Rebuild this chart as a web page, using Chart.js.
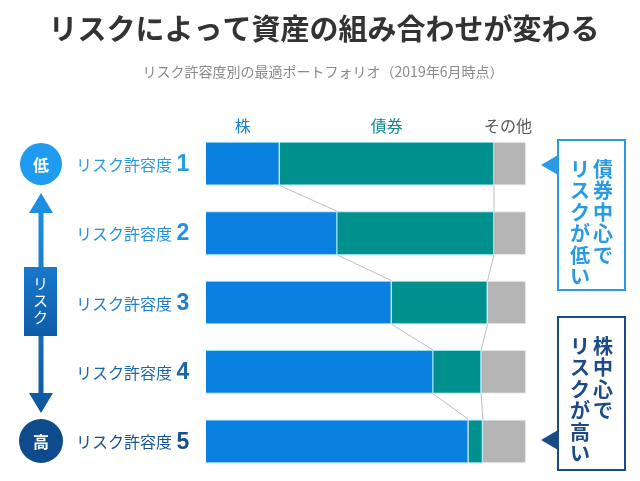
<!DOCTYPE html>
<html lang="ja">
<head>
<meta charset="utf-8">
<script src="https://cdn.jsdelivr.net/npm/chart.js@4.4.0/dist/chart.umd.min.js"></script>
<style>
html, body { margin: 0; padding: 0; background: #fff; }
#wrap { position: relative; width: 640px; height: 481px; }
</style>
</head>
<body>
<div id="wrap"><canvas id="chart"></canvas></div>
<script>
// Data
const levels = ['リスク許容度 1', 'リスク許容度 2', 'リスク許容度 3', 'リスク許容度 4', 'リスク許容度 5'];
const seriesNames = ['株', '債券', 'その他'];
const stocks = [23, 41, 58, 71, 82];
const bonds = [67, 49, 30, 15, 4.5];
const others = [10, 10, 12, 14, 13.5];

const JP = '"Noto Sans CJK JP", "Noto Sans", sans-serif';
const stockColor = '#0a80e1';
const bondColor = '#00918f';
const otherColor = '#b5b5b5';
const levelColors = ['#2a9be3', '#2590dc', '#1f7ecb', '#1a66ab', '#17508e'];
const headerColors = ['#1a7fd0', '#0f8a88', '#555555'];

function vText(ctx, str, x, y0, step) {
    [...str].forEach((ch, i) => ctx.fillText(ch, x, y0 + i * step));
}

function circle(ctx, x, y, r, color, txt) {
    ctx.beginPath();
    ctx.arc(x, y, r, 0, Math.PI * 2);
    ctx.fillStyle = color;
    ctx.fill();
    ctx.fillStyle = '#fff';
    ctx.font = 'bold 16px ' + JP;
    ctx.fillText(txt, x, y + 1);
}

function callout(ctx, y, h, pointerY, color, rightCol, leftCol) {
    const x = 558, w = 67;
    ctx.fillStyle = '#fff';
    ctx.fillRect(x, y, w, h);
    ctx.strokeStyle = color;
    ctx.lineWidth = 2;
    ctx.strokeRect(x, y, w, h);
    ctx.beginPath();
    ctx.moveTo(541, pointerY);
    ctx.lineTo(558, pointerY - 10);
    ctx.lineTo(558, pointerY + 10);
    ctx.closePath();
    ctx.fillStyle = color;
    ctx.fill();
    ctx.font = 'bold 20px ' + JP;
    vText(ctx, rightCol, 603, y + 29, 21.5);
    vText(ctx, leftCol, 580, y + 29, 21.5);
}

// Decorations drawn around the bars
const decorPlugin = {
    id: 'decor',
    afterDatasetsDraw(chart) {
        const ctx = chart.ctx;
        const xs = chart.scales.x;
        const m0 = chart.getDatasetMeta(0).data;
        ctx.save();

        // connector lines between segment boundaries
        ctx.strokeStyle = '#bdbdbd';
        ctx.lineWidth = 1;
        for (let i = 0; i < levels.length - 1; i++) {
            const b1 = m0[i].y + m0[i].height / 2;
            const t2 = m0[i + 1].y - m0[i + 1].height / 2;
            const pairs = [
                [stocks[i], stocks[i + 1]],
                [stocks[i] + bonds[i], stocks[i + 1] + bonds[i + 1]]
            ];
            pairs.forEach(([a, b]) => {
                ctx.beginPath();
                ctx.moveTo(xs.getPixelForValue(a), b1);
                ctx.lineTo(xs.getPixelForValue(b), t2);
                ctx.stroke();
            });
        }

        ctx.textAlign = 'center';
        ctx.textBaseline = 'middle';

        // title + subtitle
        ctx.fillStyle = '#333';
        ctx.font = 'bold 29px ' + JP;
        ctx.fillText('リスクによって資産の組み合わせが変わる', 324, 29);
        ctx.fillStyle = '#8a8a8a';
        ctx.font = '14px ' + JP;
        ctx.fillText('リスク許容度別の最適ポートフォリオ（2019年6月時点）', 323, 72);

        // column headers over the first bar
        const bounds = [0, stocks[0], stocks[0] + bonds[0], 100];
        ctx.font = '16px ' + JP;
        seriesNames.forEach((name, i) => {
            let cx = (xs.getPixelForValue(bounds[i]) + xs.getPixelForValue(bounds[i + 1])) / 2;
            if (i === 2) cx = 508;
            ctx.fillStyle = headerColors[i];
            ctx.fillText(name, cx, 126);
        });

        // category labels
        levels.forEach((lab, i) => {
            const [txt, num] = lab.split(' ');
            const y = m0[i].y + 1;
            ctx.fillStyle = levelColors[i];
            ctx.textAlign = 'right';
            ctx.font = '16px ' + JP;
            ctx.fillText(txt, 172, y);
            ctx.font = 'bold 23px "Liberation Sans", Arial, sans-serif';
            ctx.textAlign = 'center';
            ctx.fillText(num, 183, y);
        });

        // risk arrow
        const grad = ctx.createLinearGradient(0, 190, 0, 415);
        grad.addColorStop(0, '#1e93e6');
        grad.addColorStop(1, '#0e559e');
        ctx.fillStyle = grad;
        ctx.fillRect(38.5, 210, 5, 190);
        ctx.beginPath();
        ctx.moveTo(41, 193); ctx.lineTo(53, 213); ctx.lineTo(29, 213); ctx.closePath();
        ctx.fill();
        ctx.beginPath();
        ctx.moveTo(41, 413); ctx.lineTo(53, 393); ctx.lineTo(29, 393); ctx.closePath();
        ctx.fill();
        const boxGrad = ctx.createLinearGradient(0, 267, 0, 336);
        boxGrad.addColorStop(0, '#1878cc');
        boxGrad.addColorStop(1, '#0f5ca6');
        ctx.fillStyle = boxGrad;
        ctx.fillRect(24, 267, 33, 69);
        ctx.fillStyle = '#fff';
        ctx.font = '15px ' + JP;
        vText(ctx, 'リスク', 40.5, 283, 17);

        circle(ctx, 41, 164, 21, '#1f9bf0', '低');
        circle(ctx, 41, 441, 22, '#0d4b8c', '高');

        // callouts
        callout(ctx, 140, 150, 165, '#2a9be3', '債券中心で', 'リスクが低い');
        callout(ctx, 317, 153, 440, '#1a4a87', '株中心で', 'リスクが高い');

        ctx.restore();
    }
};

const segBorder = 'rgba(140, 222, 240, 0.95)';

new Chart(document.getElementById('chart'), {
    type: 'bar',
    data: {
        labels: levels,
        datasets: [
            { label: seriesNames[0], data: stocks, backgroundColor: stockColor, borderColor: segBorder, borderWidth: 1 },
            { label: seriesNames[1], data: bonds, backgroundColor: bondColor, borderColor: segBorder, borderWidth: 1 },
            { label: seriesNames[2], data: others, backgroundColor: otherColor, borderColor: 'rgba(230,230,230,0.9)', borderWidth: 1 }
        ]
    },
    options: {
        indexAxis: 'y',
        responsive: true,
        maintainAspectRatio: false,
        animation: false,
        layout: { padding: { left: 206, right: 114, top: 129, bottom: 5 } },
        barPercentage: 0.63,
        categoryPercentage: 1,
        plugins: {
            legend: { display: false },
            tooltip: { enabled: false }
        },
        scales: {
            x: { stacked: true, min: 0, max: 100, display: false },
            y: { stacked: true, display: false }
        }
    },
    plugins: [decorPlugin]
});
</script>
</body>
</html>
